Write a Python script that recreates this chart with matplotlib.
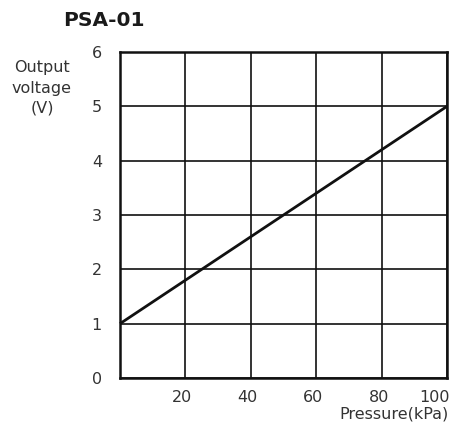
import matplotlib
matplotlib.use("Agg")
import matplotlib.pyplot as plt
from matplotlib.transforms import ScaledTranslation

pressure = [0, 100]
voltage = [1, 5]
x_ticks = [20, 40, 60, 80, 100]
y_ticks = [0, 1, 2, 3, 4, 5, 6]

plt.rcParams['font.family'] = ['DejaVu Sans']

fig = plt.figure(figsize=(4.54, 4.30), dpi=100)
ax = fig.add_axes([120/454, (430-378)/430, 327/454, 326/430])
ax.set_xlim(0, 100)
ax.set_ylim(0, 6)
ax.set_xticks(x_ticks)
ax.set_yticks(y_ticks)
ax.grid(True, color='#111111', linewidth=1.2)
ax.set_axisbelow(True)
for s in ax.spines.values():
    s.set_linewidth(1.8)
    s.set_color('#111111')
ax.tick_params(length=0, labelsize=11.5, colors='#333333', pad=9)
ax.tick_params(axis='y', pad=13)
fig.canvas.draw()
xt = ax.xaxis.get_ticklabels()
xt[-1].set_horizontalalignment('right')
for lbl in xt[:-1]:
    lbl.set_transform(lbl.get_transform() + ScaledTranslation(-3/100, 0, fig.dpi_scale_trans))
xt[-1].set_transform(xt[-1].get_transform() + ScaledTranslation(3/100, 0, fig.dpi_scale_trans))
ax.plot(pressure, voltage, color='#111111', linewidth=2, solid_capstyle='butt', clip_on=False)

fig.text(104/454, 1 - 20/430, 'PSA-01', ha='center', va='center', fontsize=14.5, fontweight='bold', color='#1a1a1a')
fig.text(42/454, 1 - 88/430, 'Output\nvoltage\n(V)', ha='center', va='center', fontsize=11.5, color='#333333', linespacing=1.45)
fig.text(449/454, 1 - 414/430, 'Pressure(kPa)', ha='right', va='center', fontsize=11.5, color='#333333')

fig.savefig('out.png', dpi=100)
